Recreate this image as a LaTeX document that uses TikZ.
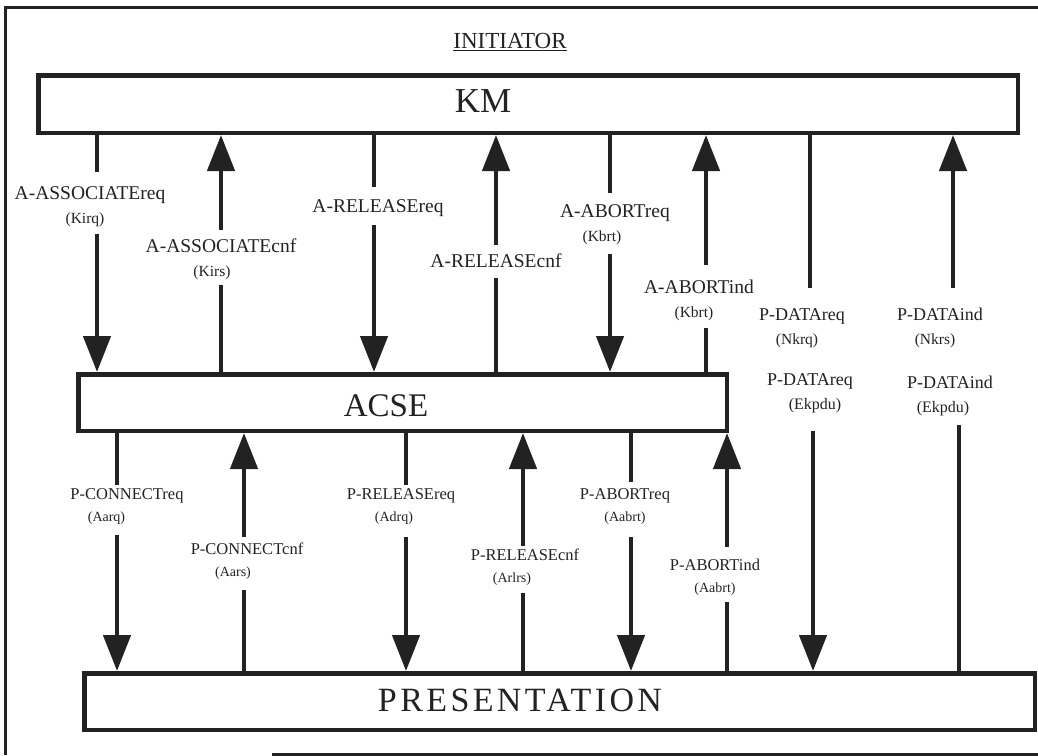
\documentclass[tikz,border=0pt]{standalone}
\usepackage{fontspec}
\setmainfont{Liberation Serif}
\newfontfamily\widefont{Liberation Serif}[LetterSpace=10]
\usetikzlibrary{arrows.meta}

\definecolor{ink}{HTML}{222222}
\newcommand{\kupper}[1]{{\fontsize{15.5}{24}\selectfont #1}}
\newcommand{\klower}[1]{{\fontsize{14}{22}\selectfont #1}}
\newcommand{\kdata}[1]{{\fontsize{16}{24}\selectfont #1}}

\tikzset{
  bigtip/.tip={Triangle[width=27pt,length=36pt]},
  frame/.style={draw=ink, line width=3pt},
  layer/.style={draw=ink, line width=4.5pt, fill=white, inner sep=0pt},
  shaft/.style={draw=ink, line width=4.5pt},
  title/.style={text=ink, inner sep=0pt, outer sep=0pt},
  upper/.style={align=center, inner sep=0pt, outer sep=0pt, text=ink,
    font=\fontsize{19.5}{24}\selectfont},
  datalbl/.style={align=center, inner sep=0pt, outer sep=0pt, text=ink,
    font=\fontsize{18}{24}\selectfont},
  lower/.style={align=center, inner sep=0pt, outer sep=0pt, text=ink,
    font=\fontsize{16.5}{22}\selectfont},
}

\begin{document}
\begin{tikzpicture}[x=1pt, y=-1pt]
\useasboundingbox (0,0) rectangle (1038,755);
\fill[white] (0,0) rectangle (1038,755);

% page frame
\draw[frame] (5,755) -- (5,7) -- (1038,7);
\draw[frame] (272,754) -- (1038,754);

\node[title, font=\fontsize{23}{27}\selectfont] (init) at (510,42) {\underline{INITIATOR}};

% the three layers
\node[layer, minimum width=979.5pt, minimum height=57.5pt] (KM) at (528,104) {};
\node[title, font=\fontsize{35}{40}\selectfont] (kmtext) at (483,101) {KM};
\node[layer, minimum width=648.5pt, minimum height=56.5pt] (ACSE) at (402.5,402.5) {};
\node[title, font=\fontsize{33}{38}\selectfont] (acsetext) at (386,406) {ACSE};
\node[layer, minimum width=950.5pt, minimum height=56.5pt] (PRES) at (559.5,701.5) {};
\node[title, font=\widefont\fontsize{34}{38}\selectfont] (prestext) at (520,700) {PRESENTATION};

% connector columns
\coordinate (xa1) at (97,0);
\coordinate (xa2) at (221,0);
\coordinate (xa3) at (374,0);
\coordinate (xa4) at (496,0);
\coordinate (xa5) at (610,0);
\coordinate (xa6) at (706,0);
\coordinate (xd1) at (810,0);
\coordinate (xd2) at (813,0);
\coordinate (xd3) at (953,0);
\coordinate (xd4) at (959,0);
\coordinate (xp1) at (117,0);
\coordinate (xp2) at (244,0);
\coordinate (xp3) at (406,0);
\coordinate (xp4) at (523,0);
\coordinate (xp5) at (631,0);
\coordinate (xp6) at (727,0);

% KM <-> ACSE primitives
\node[upper] (a1) at (90,206.5) {A-ASSOCIATEreq\\\kupper{(Kirq)\rule{10pt}{0pt}}};
\node[upper] (a2) at (221,259) {A-ASSOCIATEcnf\\\kupper{(Kirs)\rule{18pt}{0pt}}};
\node[upper] (a3) at (378,208) {A-RELEASEreq};
\node[upper] (a4) at (496,261) {A-RELEASEcnf};
\node[upper] (a5) at (615,225) {A-ABORTreq\\\kupper{(Kbrt)\rule{26pt}{0pt}}};
\node[upper] (a6) at (699,300) {A-ABORTind\\\kupper{(Kbrt)\rule{10pt}{0pt}}};

% KM <-> PRESENTATION data primitives
\node[datalbl] (d1) at (802,328) {P-DATAreq\\\kupper{(Nkrq)\rule{10pt}{0pt}}};
\node[datalbl] (d2) at (810,393) {P-DATAreq\\\kdata{\rule{10pt}{0pt}(Ekpdu)}};
\node[datalbl] (d3) at (940,328) {P-DATAind\\\kupper{(Nkrs)\rule{10pt}{0pt}}};
\node[datalbl] (d4) at (950,396) {P-DATAind\\\kdata{(Ekpdu)\rule{14pt}{0pt}}};

% ACSE <-> PRESENTATION primitives
\node[lower] (p1) at (127,507) {P-CONNECTreq\\\klower{(Aarq)\rule{41pt}{0pt}}};
\node[lower] (p2) at (247,561) {P-CONNECTcnf\\\klower{(Aars)\rule{28pt}{0pt}}};
\node[lower] (p3) at (401,507) {P-RELEASEreq\\\klower{(Adrq)\rule{14pt}{0pt}}};
\node[lower] (p4) at (525,567) {P-RELEASEcnf\\\klower{(Arlrs)\rule{26pt}{0pt}}};
\node[lower] (p5) at (625,507) {P-ABORTreq\\\klower{(Aabrt)}};
\node[lower] (p6) at (715,577) {P-ABORTind\\\klower{(Aabrt)}};

% KM -> ACSE (req) and ACSE -> KM (cnf/ind)
\draw[shaft, shorten >=14pt] (KM.south -| xa1) -- (a1.north -| xa1);
\draw[shaft, -bigtip, shorten <=7pt] (a1.south -| xa1) -- (ACSE.north -| xa1);

\draw[shaft, bigtip-, shorten >=8pt] (KM.south -| xa2) -- (a2.north -| xa2);
\draw[shaft, shorten <=5pt] (a2.south -| xa2) -- (ACSE.north -| xa2);

\draw[shaft, shorten >=12pt] (KM.south -| xa3) -- (a3.north -| xa3);
\draw[shaft, -bigtip, shorten <=8pt] (a3.south -| xa3) -- (ACSE.north -| xa3);

\draw[shaft, bigtip-, shorten >=9pt] (KM.south -| xa4) -- (a4.north -| xa4);
\draw[shaft, shorten <=10pt] (a4.south -| xa4) -- (ACSE.north -| xa4);

\draw[shaft, shorten >=12pt] (KM.south -| xa5) -- (a5.north -| xa5);
\draw[shaft, -bigtip, shorten <=9pt] (a5.south -| xa5) -- (ACSE.north -| xa5);

\draw[shaft, bigtip-, shorten >=15pt] (KM.south -| xa6) -- (a6.north -| xa6);
\draw[shaft, shorten <=8pt] (a6.south -| xa6) -- (ACSE.north -| xa6);

% KM <-> PRESENTATION
\draw[shaft, shorten >=20pt] (KM.south -| xd1) -- (d1.north -| xd1);
\draw[shaft, -bigtip, shorten <=18pt] (d2.south -| xd2) -- (PRES.north -| xd2);

\draw[shaft, bigtip-, shorten >=20pt] (KM.south -| xd3) -- (d3.north -| xd3);
\draw[shaft, shorten <=9pt] (d4.south -| xd4) -- (PRES.north -| xd4);

% ACSE -> PRESENTATION (req) and PRESENTATION -> ACSE (cnf/ind)
\draw[shaft, shorten >=4pt] (ACSE.south -| xp1) -- (p1.north -| xp1);
\draw[shaft, -bigtip, shorten <=10pt] (p1.south -| xp1) -- (PRES.north -| xp1);

\draw[shaft, bigtip-, shorten >=6pt] (ACSE.south -| xp2) -- (p2.north -| xp2);
\draw[shaft, shorten <=11pt] (p2.south -| xp2) -- (PRES.north -| xp2);

\draw[shaft, shorten >=4pt] (ACSE.south -| xp3) -- (p3.north -| xp3);
\draw[shaft, -bigtip, shorten <=12pt] (p3.south -| xp3) -- (PRES.north -| xp3);

\draw[shaft, bigtip-, shorten >=3pt] (ACSE.south -| xp4) -- (p4.north -| xp4);
\draw[shaft, shorten <=8pt] (p4.south -| xp4) -- (PRES.north -| xp4);

\draw[shaft, shorten >=7pt] (ACSE.south -| xp5) -- (p5.north -| xp5);
\draw[shaft, -bigtip, shorten <=12pt] (p5.south -| xp5) -- (PRES.north -| xp5);

\draw[shaft, bigtip-, shorten >=12pt] (ACSE.south -| xp6) -- (p6.north -| xp6);
\draw[shaft, shorten <=7pt] (p6.south -| xp6) -- (PRES.north -| xp6);
\end{tikzpicture}
\end{document}
